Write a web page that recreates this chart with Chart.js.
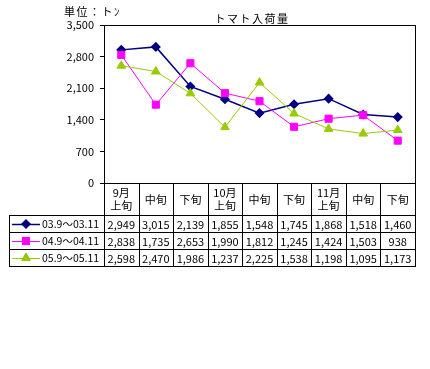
<!doctype html>
<html lang="ja">
<head>
<meta charset="utf-8">
<title>トマト入荷量</title>
<script src="https://cdn.jsdelivr.net/npm/chart.js@4"></script>
<style>
  html,body{margin:0;background:#fff}
  #wrap{width:430px;height:369px}
</style>
</head>
<body>
<div id="wrap"><canvas id="c" width="430" height="369"></canvas></div>
<script>
// data
const categories = [['9月','上旬'],['中旬'],['下旬'],['10月','上旬'],['中旬'],['下旬'],['11月','上旬'],['中旬'],['下旬']];
const seriesNames = ['03.9～03.11','04.9～04.11','05.9～05.11'];
const s0309 = [2949,3015,2139,1855,1548,1745,1868,1518,1460];
const s0409 = [2838,1735,2653,1990,1812,1245,1424,1503,938];
const s0509 = [2598,2470,1986,1237,2225,1538,1198,1095,1173];
const yTicks = [0,700,1400,2100,2800,3500];
const chartTitle = 'トマト入荷量';
const unitLabel = '単位：トﾝ';

const FONT = "'Noto Sans CJK JP', 'Liberation Sans', sans-serif";
const fmt = v => v.toLocaleString('en-US');

// table rows under the plot (header row, then one row per series)
const HEAD_BOTTOM = 215, ROW_H = 17, TABLE_LEFT = 9;

const tablePlugin = {
  id:'tablePlugin',
  afterDraw(chart){
    const ctx = chart.ctx, a = chart.chartArea, xs = chart.scales.x;
    const n = categories.length, colW = (a.right - a.left) / n;
    const px = v => Math.round(v) + 0.5;
    ctx.save();
    ctx.strokeStyle = '#000'; ctx.lineWidth = 1;

    // plot frame
    ctx.strokeRect(px(a.left), px(a.top), Math.round(a.right - a.left), Math.round(a.bottom - a.top));

    const rowsBottom = HEAD_BOTTOM + ROW_H * chart.data.datasets.length;
    // vertical lines of the table
    ctx.beginPath();
    for (let i = 0; i <= n; i++){
      const x = px(a.left + colW * i);
      ctx.moveTo(x, a.bottom); ctx.lineTo(x, rowsBottom);
    }
    ctx.moveTo(px(TABLE_LEFT), HEAD_BOTTOM); ctx.lineTo(px(TABLE_LEFT), rowsBottom);
    // horizontal lines
    for (let r = 0; r <= chart.data.datasets.length; r++){
      const y = px(HEAD_BOTTOM + ROW_H * r);
      ctx.moveTo(TABLE_LEFT, y); ctx.lineTo(a.right + 1, y);
    }
    ctx.stroke();

    // header labels
    ctx.fillStyle = '#000';
    ctx.textAlign = 'center'; ctx.textBaseline = 'middle';
    ctx.font = '11px ' + FONT;
    categories.forEach((lab, i) => {
      const x = xs.getPixelForValue(i);
      const mid = (a.bottom + HEAD_BOTTOM) / 2;
      if (lab.length === 1) ctx.fillText(lab[0], x, mid + 1);
      else { ctx.fillText(lab[0], x, mid - 6); ctx.fillText(lab[1], x, mid + 7); }
    });

    // value rows + legend keys
    chart.data.datasets.forEach((ds, r) => {
      const cy = HEAD_BOTTOM + ROW_H * r + ROW_H / 2 + 1;
      ctx.font = '11px ' + FONT;
      ctx.textAlign = 'center';
      ds.data.forEach((v, i) => ctx.fillText(fmt(v), xs.getPixelForValue(i), cy));

      // key: line + marker + name
      ctx.strokeStyle = ds.borderColor; ctx.lineWidth = ds.borderWidth;
      ctx.beginPath(); ctx.moveTo(12, Math.round(cy) - 0.5); ctx.lineTo(40, Math.round(cy) - 0.5); ctx.stroke();
      Chart.helpers.drawPoint(ctx, {pointStyle: ds.pointStyle, radius: ds.pointRadius, borderWidth: 1, rotation: 0}, 26, cy - 0.5);
      ctx.fillStyle = ds.pointBackgroundColor; ctx.fill();
      ctx.fillStyle = '#000';
      ctx.textAlign = 'left';
      ctx.font = '10.5px ' + FONT;
      ctx.fillText(seriesNames[r], 42, cy);
      ctx.strokeStyle = '#000'; ctx.lineWidth = 1;
    });

    // title + unit
    ctx.font = '11px ' + FONT;
    ctx.letterSpacing = '1.5px';
    ctx.textAlign = 'center';
    ctx.fillText(chartTitle, 252, 19);
    ctx.textAlign = 'left';
    ctx.fillText(unitLabel, 64, 12);
    ctx.restore();
  }
};

const mk = (i, data, color, style, radius, width) => ({
  label: seriesNames[i], data,
  borderColor: color, backgroundColor: color,
  pointBackgroundColor: color, pointBorderColor: color,
  pointStyle: style, pointRadius: radius, pointHoverRadius: radius,
  borderWidth: width, tension: 0, order: 2 - i
});

new Chart(document.getElementById('c'), {
  type: 'line',
  data: {
    labels: categories.map(c => c.join('')),
    datasets: [
      mk(0, s0309, '#000080', 'rectRot', 4, 1.5),
      mk(1, s0409, '#FF00FF', 'rect', 5, 1),
      mk(2, s0509, '#99CC00', 'triangle', 5, 1)
    ]
  },
  options: {
    responsive: false, animation: false, devicePixelRatio: 1,
    layout: { padding: { left: 0, right: 15, top: 25, bottom: 186 } },
    plugins: { legend: { display: false }, tooltip: { enabled: false }, title: { display: false } },
    scales: {
      x: { type: 'category', offset: true, display: false },
      y: {
        min: 0, max: 3500,
        afterBuildTicks: s => { s.ticks = yTicks.map(v => ({ value: v })); },
        afterFit: s => { s.width = 104; },
        grid: { drawOnChartArea: false, color: '#000', tickLength: 4 },
        border: { color: '#000' },
        ticks: { color: '#000', padding: 6, font: { family: FONT, size: 11 }, callback: v => fmt(v) }
      }
    }
  },
  plugins: [tablePlugin]
});
</script>
</body>
</html>
